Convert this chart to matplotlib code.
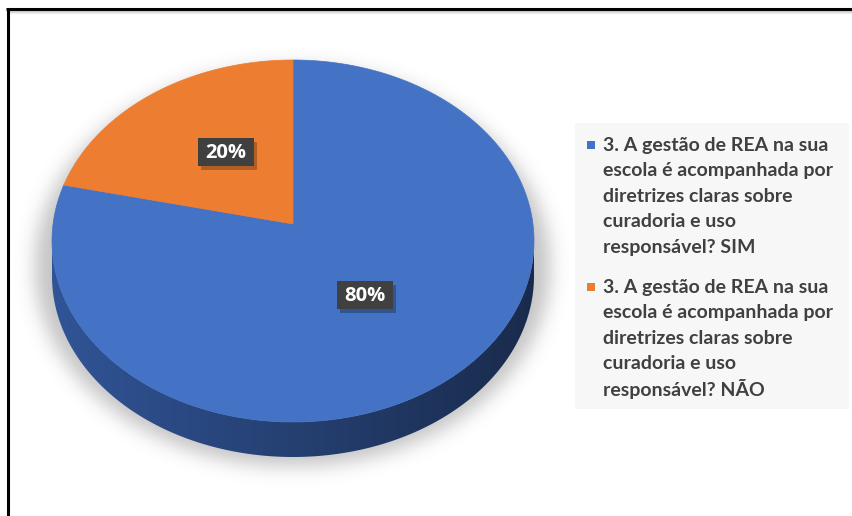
import textwrap

import numpy as np
import matplotlib.pyplot as plt
from matplotlib.patches import Polygon, Rectangle

labels = ['3. A gestão de REA na sua escola é acompanhada por diretrizes claras sobre curadoria e uso responsável? SIM',
          '3. A gestão de REA na sua escola é acompanhada por diretrizes claras sobre curadoria e uso responsável? NÃO']
values = [80, 20]
colors = ['#4472c4', '#ed7d31']

W, H = 852, 516
cx, cy, rx, ry = 293, 241, 241, 181   # top face ellipse
vx, vy = 293, 224                     # wedge apex (perspective)
depth = 35
text_grey = '#404040'


def ell(theta):
    t = np.radians(theta)
    return cx + rx * np.cos(t), cy - ry * np.sin(t)


def blur(img, sigma):
    k = np.arange(-3 * sigma, 3 * sigma + 1)
    g = np.exp(-k ** 2 / (2 * sigma ** 2))
    g /= g.sum()
    img = np.apply_along_axis(lambda r: np.convolve(r, g, mode='same'), 1, img)
    return np.apply_along_axis(lambda c: np.convolve(c, g, mode='same'), 0, img)


fig = plt.figure(figsize=(W / 100, H / 100), dpi=100)
ax = fig.add_axes([0, 0, 1, 1])
ax.set_xlim(0, W)
ax.set_ylim(H, 0)
ax.axis('off')

# soft drop shadow under the pie
yy, xx = np.mgrid[0:H, 0:W]
mask = (((xx - 292) / 258.0) ** 2 + ((yy - 266) / 200.0) ** 2 <= 1).astype(float)
sh = blur(mask, 9) * 0.45
rgba = np.zeros((H, W, 4))
rgba[..., :3] = 0.5
rgba[..., 3] = sh
ax.imshow(rgba, extent=(0, W, H, 0), zorder=1, interpolation='bilinear')

# side wall of the pie (lower half), dark gradient left to right
t = np.linspace(180, 360, 200)
top_x, top_y = ell(t)
side = np.column_stack([np.r_[top_x, top_x[::-1]], np.r_[top_y, top_y[::-1] + depth]])
side_poly = Polygon(side, closed=True, facecolor='none', edgecolor='none', zorder=2)
ax.add_patch(side_poly)
grad = np.linspace(0, 1, 256)
c0 = np.array([0.19, 0.33, 0.59])
c1 = np.array([0.10, 0.17, 0.30])
side_img = c0[None, None, :] * (1 - grad)[None, :, None] + c1[None, None, :] * grad[None, :, None]
im = ax.imshow(np.repeat(side_img, 2, axis=0), extent=(cx - rx, cx + rx, cy + ry + depth, cy),
               aspect='auto', zorder=2)
im.set_clip_path(side_poly)

# top face wedges, clockwise from 12 o'clock
start = 90.0
total = float(sum(values))
for v, col in zip(values, colors):
    sweep = 360.0 * v / total
    ang = np.linspace(start, start - sweep, 300)
    ex, ey = ell(ang)
    pts = np.column_stack([np.r_[vx, ex], np.r_[vy, ey]])
    ax.add_patch(Polygon(pts, closed=True, facecolor=col, edgecolor=col, lw=0.5, zorder=3))
    start -= sweep

# data labels in dark boxes
label_pos = [(365, 295), (226, 152)]
for v, (lx, ly) in zip(values, label_pos):
    bw, bh = 56, 28
    ax.add_patch(Rectangle((lx - bw / 2 + 3, ly - bh / 2 + 4), bw, bh, facecolor='black',
                           alpha=0.25, edgecolor='none', zorder=4))
    ax.add_patch(Rectangle((lx - bw / 2, ly - bh / 2), bw, bh, facecolor='#404040',
                           edgecolor='none', zorder=5))
    ax.text(lx, ly + 1, f'{v / total:.0%}', color='white', fontsize=14.5, fontweight='bold',
            family=['Open Sans', 'DejaVu Sans'], ha='center', va='center', zorder=6)

# legend
ax.add_patch(Rectangle((575, 123), 274, 286, facecolor='#f7f7f7', edgecolor='none', zorder=1))
entry_top = [145, 287]
line_h = 25.6
for lab, col, y0 in zip(labels, colors, entry_top):
    ax.add_patch(Rectangle((587, y0 - 4), 8, 8, facecolor=col, edgecolor='none', zorder=3))
    for i, line in enumerate(textwrap.wrap(lab, width=25)):
        ax.text(603, y0 + i * line_h, line, color=text_grey, fontsize=14, fontweight='bold',
                family=['Lato', 'DejaVu Sans'], ha='left', va='center', zorder=3)

# frame lines on top and left
ax.plot([6, W], [9, 9], color='black', lw=2.2, solid_capstyle='butt', zorder=7)
ax.plot([7.5, 7.5], [8, H], color='black', lw=2.2, solid_capstyle='butt', zorder=7)
for k, a in enumerate([0.35, 0.2, 0.1]):
    ax.plot([9, W], [11 + k, 11 + k], color='grey', lw=1, alpha=a, zorder=6)

fig.savefig('out.png', dpi=100)
